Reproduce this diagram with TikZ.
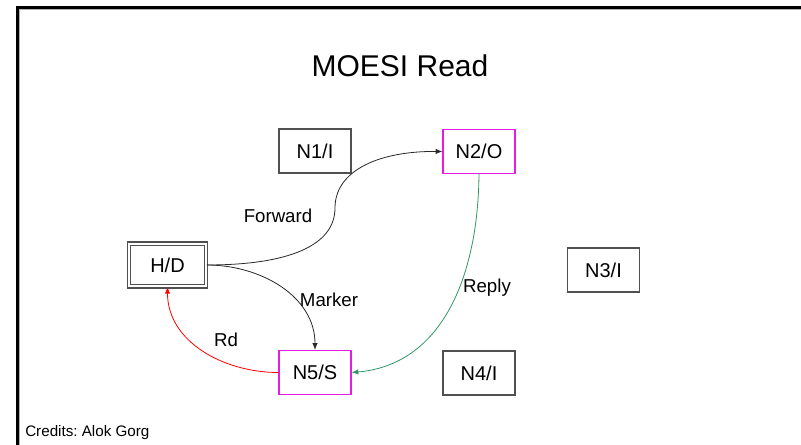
\documentclass[tikz,border=0pt]{standalone}
\usepackage{fontspec}
\setmainfont{Liberation Sans}
\usetikzlibrary{arrows.meta}
\definecolor{boxgray}{RGB}{80,80,80}
\definecolor{mag}{RGB}{225,30,225}
\definecolor{replygreen}{RGB}{50,150,100}
\definecolor{arrowdark}{RGB}{40,40,40}
\tikzset{
  nodebox/.style={draw=boxgray, line width=1.0pt, minimum width=54pt, minimum height=33pt, inner sep=0pt, font=\fontsize{15}{17}\selectfont},
  magbox/.style={nodebox, draw=mag},
  homebox/.style={draw=boxgray, double=white, double distance=1.6pt, line width=0.9pt, minimum width=58pt, minimum height=32pt, inner sep=0pt, font=\fontsize{15}{17}\selectfont},
  conn/.style={line width=0.6pt, -{Latex[length=5pt,width=4pt]}},
  lbl/.style={font=\fontsize{14}{16}\selectfont, inner sep=0pt}
}
\frenchspacing
\begin{document}
\begin{tikzpicture}[x=0.75pt,y=-0.75pt]
\useasboundingbox (0,0) rectangle (801,445);
% frame
\draw[line width=2.1pt] (17.4,445) -- (17.4,7.4) -- (801,7.4);
\draw[gray!60, line width=0.5pt] (19.2,445) -- (19.2,9.5) -- (801,9.5);
% title
\node[font=\fontsize{22.5}{25}\selectfont] (title) at (400,66) {MOESI Read};
% nodes
\node[nodebox] (n1) at (315,151) {N1/I};
\node[magbox] (n2) at (479,151.5) {N2/O};
\node[homebox] (hd) at (167.5,265) {H/D};
\node[nodebox] (n3) at (603.5,270) {N3/I};
\node[nodebox] (n4) at (479,373) {N4/I};
\node[magbox] (n5) at (315,372.5) {N5/S};
% connectors
\coordinate (fmid) at (335,208);
\draw[conn, draw=arrowdark] (hd.east) .. controls (290,265) and (335,245) .. (fmid) .. controls (335,170) and (380,151) .. (n2.west);
\draw[conn, draw=arrowdark] (hd.east) to[out=0,in=90] (n5.north);
\draw[conn, draw=replygreen] (n2.south) .. controls (478,280) and (440,365) .. (n5.east);
\draw[conn, draw=red] (n5.west) to[out=180,in=270] (hd.south);
% labels
\node[lbl] (lfwd) at (278,216) {Forward};
\node[lbl] (lmrk) at (329,300) {Marker};
\node[lbl] (lrd) at (226,340) {Rd};
\node[lbl] (lrep) at (487,288) {Reply};
% credits
\node[anchor=base west, font=\fontsize{11.4}{13}\selectfont, inner sep=0pt] (credits) at (25,437) {Credits: Alok Gorg};
\end{tikzpicture}
\end{document}
